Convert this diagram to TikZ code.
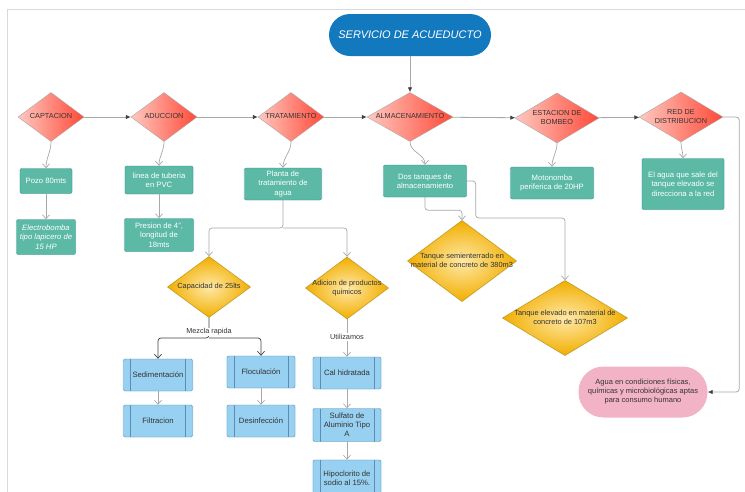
\documentclass[tikz,border=0pt]{standalone}
\usepackage{fontspec}
\setmainfont{Liberation Sans}
\usetikzlibrary{shapes.geometric,arrows.meta,shadows}

\definecolor{oceano}{HTML}{1279BE}
\definecolor{rojo}{HTML}{FF4A38}
\definecolor{rosado}{HTML}{FFC8C0}
\definecolor{verde}{HTML}{5BB9A6}
\definecolor{verdeborde}{HTML}{3F8F80}
\definecolor{oro}{HTML}{F1AE00}
\definecolor{oroclaro}{HTML}{FFE9A8}
\definecolor{celeste}{HTML}{97D0F0}
\definecolor{celesteborde}{HTML}{5C8DB2}
\definecolor{rosa}{HTML}{F3B3C6}
\definecolor{linea}{HTML}{A8A8A8}
\definecolor{texto}{HTML}{333333}

\newcommand{\rombo}[1]{\makebox[0pt]{\raisebox{-0.25em}[0pt][0pt]{\begin{tabular}{@{}c@{}}#1\end{tabular}}}}

\begin{document}
\begin{tikzpicture}[x=1pt, y=-1pt,
    halo/.style={drop shadow={shadow xshift=0pt, shadow yshift=0pt, shadow scale=1.03, fill=cyan!25, opacity=0.35}},
    etapa/.style={diamond, draw=gray!70, left color=rosado, right color=rojo, inner sep=0pt, text=texto, font=\fontsize{7.3}{8.8}\selectfont},
    caja/.style={rectangle, rounded corners=2pt, draw=verdeborde, fill=verde, text=white, align=center, inner sep=1pt, halo, font=\fontsize{7.7}{9.3}\selectfont},
    decision/.style={diamond, draw=oro!80!black, inner color=oroclaro, outer color=oro, inner sep=0pt, halo, text=texto, font=\fontsize{7.4}{9}\selectfont},
    proceso/.style={rectangle, rounded corners=2pt, draw=celesteborde, fill=celeste, text=texto, align=center, inner sep=1pt, halo, font=\fontsize{7.7}{9}\selectfont,
      path picture={\draw[celesteborde] ([xshift=7pt]path picture bounding box.north west) -- ([xshift=7pt]path picture bounding box.south west)
        ([xshift=-7pt]path picture bounding box.north east) -- ([xshift=-7pt]path picture bounding box.south east);}},
    etiqueta/.style={fill=white, inner sep=1pt, text=texto, font=\fontsize{7.3}{8}\selectfont},
    flujo/.style={draw=linea, line width=0.8pt, rounded corners=3pt, -{Latex[length=5pt,width=4.5pt,color=black!75]}},
    rama/.style={draw=linea, line width=0.7pt, rounded corners=3pt, -{Straight Barb[length=4pt,width=7pt]}},
    mezcla/.style={rama, draw=black!75}]
  \useasboundingbox (0,0) rectangle (745,491);
  \draw[gray!30, line width=0.8pt] (7,500) -- (7,9) -- (750,9);

  \node[rectangle, rounded corners=21pt, fill=oceano, text=white, minimum width=162, minimum height=42, font=\fontsize{11}{13}\selectfont\itshape] (serv) at (410,35) {SERVICIO DE ACUEDUCTO};

  \node[etapa, minimum width=66, minimum height=49] (cap) at (51,117) {\rombo{CAPTACION}};
  \node[etapa, minimum width=66, minimum height=49] (adu) at (164,117) {\rombo{ADUCCION}};
  \node[etapa, minimum width=66, minimum height=49] (tra) at (291,117) {\rombo{TRATAMIENTO}};
  \node[etapa, minimum width=86, minimum height=49] (alm) at (410,117) {\rombo{ALMACENAMIENTO}};
  \node[etapa, minimum width=84, minimum height=50] (est) at (557,118) {\rombo{ESTACION DE\\BOMBEO}};
  \node[etapa, minimum width=84, minimum height=50] (red) at (681,117) {\rombo{RED DE\\DISTRIBUCION}};

  \node[caja, minimum width=52, minimum height=25] (pozo) at (46,181) {Pozo 80mts};
  \node[caja, minimum width=59, minimum height=35] (elec) at (46,237) {\itshape Electrobomba\\\itshape tipo lapicero de\\\itshape 15 HP};
  \node[caja, minimum width=68, minimum height=28] (lin) at (159,180) {linea de tuberia\\en PVC};
  \node[caja, minimum width=69, minimum height=33] (pres) at (159,235) {Presion de 4'',\\longitud de\\18mts};
  \node[caja, minimum width=77, minimum height=32] (pta) at (283,184) {Planta de\\tratamiento de\\agua};
  \node[caja, minimum width=83, minimum height=32] (dos) at (425,181) {Dos tanques de\\almacenamiento};
  \node[caja, minimum width=83, minimum height=32] (moto) at (552,183) {Motonomba\\periferica de 20HP};
  \node[caja, minimum width=82, minimum height=51] (elag) at (683,184) {El agua que sale del\\tanque elevado se\\direcciona a la red};

  \node[decision, minimum width=83, minimum height=61] (cap25) at (209,287) {\rombo{Capacidad de 25lts}};
  \node[decision, minimum width=83, minimum height=62] (adi) at (347,288) {\rombo{Adicion de productos\\quimicos}};
  \node[decision, minimum width=109, minimum height=81] (semi) at (462,261) {\rombo{Tanque semienterrado en\\material de concreto de 380m3}};
  \node[decision, minimum width=125, minimum height=75] (elev) at (565,318) {\rombo{Tanque elevado en material de\\concreto de 107m3}};

  \node[proceso, minimum width=69, minimum height=32] (sed) at (158,375) {Sedimentación};
  \node[proceso, minimum width=69, minimum height=32] (fil) at (158,421) {Filtracion};
  \node[proceso, minimum width=68, minimum height=32] (flo) at (261,372) {Floculación};
  \node[proceso, minimum width=68, minimum height=32] (des) at (261,421) {Desinfección};
  \node[proceso, minimum width=68, minimum height=32] (cal) at (347,373) {Cal hidratada};
  \node[proceso, minimum width=68, minimum height=33] (sul) at (347,425) {Sulfato de\\Aluminio Tipo\\A};
  \node[proceso, minimum width=68, minimum height=36] (hip) at (347,478) {Hipoclorito de\\sodio al 15\%.};

  \node[rectangle, rounded corners=25pt, fill=rosa, text=texto, align=center, minimum width=129, minimum height=51, font=\fontsize{7.5}{9}\selectfont] (agua) at (643,392) {Agua en condiciones físicas,\\químicas y microbiológicas aptas\\para consumo humano};

  \coordinate (ptasplit) at (283,228);
  \coordinate (mzsplit) at (209,338);

  \draw[flujo] (serv.south) -- (alm.north);
  \draw[flujo] (cap) -- (adu);
  \draw[flujo] (adu) -- (tra);
  \draw[flujo] (tra) -- (alm);
  \draw[flujo] (alm) -- (est);
  \draw[flujo] (est) -- (red);
  \draw[flujo] (red.east) -- ++(16,0) |- (agua.east);

  \draw[rama] (cap.south) to[out=-90, in=90] (pozo.north);
  \draw[rama] (adu.south) to[out=-90, in=90] (lin.north);
  \draw[rama] (tra.south) to[out=-90, in=90] (pta.north);
  \draw[rama] (alm.south) to[out=-90, in=90] (dos.north);
  \draw[rama] (est.south) to[out=-90, in=90] (moto.north);
  \draw[rama] (red.south) to[out=-90, in=90] (elag.north);
  \draw[rama] (pozo) -- (elec);
  \draw[rama] (lin) -- (pres);
  \draw[rama] (pta.south) -- (ptasplit) -| (cap25.north);
  \draw[rama] (ptasplit) -| (adi.north);
  \draw[rama] (dos.south) -- ++(0,13) -| (semi.north);
  \draw[rama] (dos.east) -- ++(9,0) -- ++(0,37) -| (elev.north);

  \draw[mezcla] (cap25.south) -- (mzsplit) -| (sed.north);
  \draw[mezcla] (mzsplit) -| (flo.north);
  \draw[rama] (adi.south) -- (cal.north);
  \draw[rama] (sed) -- (fil);
  \draw[rama] (flo) -- (des);
  \draw[rama] (cal) -- (sul);
  \draw[rama] (sul) -- (hip);

  \node[etiqueta] (mz) at (209,332) {Mezcla rapida};
  \node[etiqueta] (uti) at (347,337) {Utilizamos};
\end{tikzpicture}
\end{document}
